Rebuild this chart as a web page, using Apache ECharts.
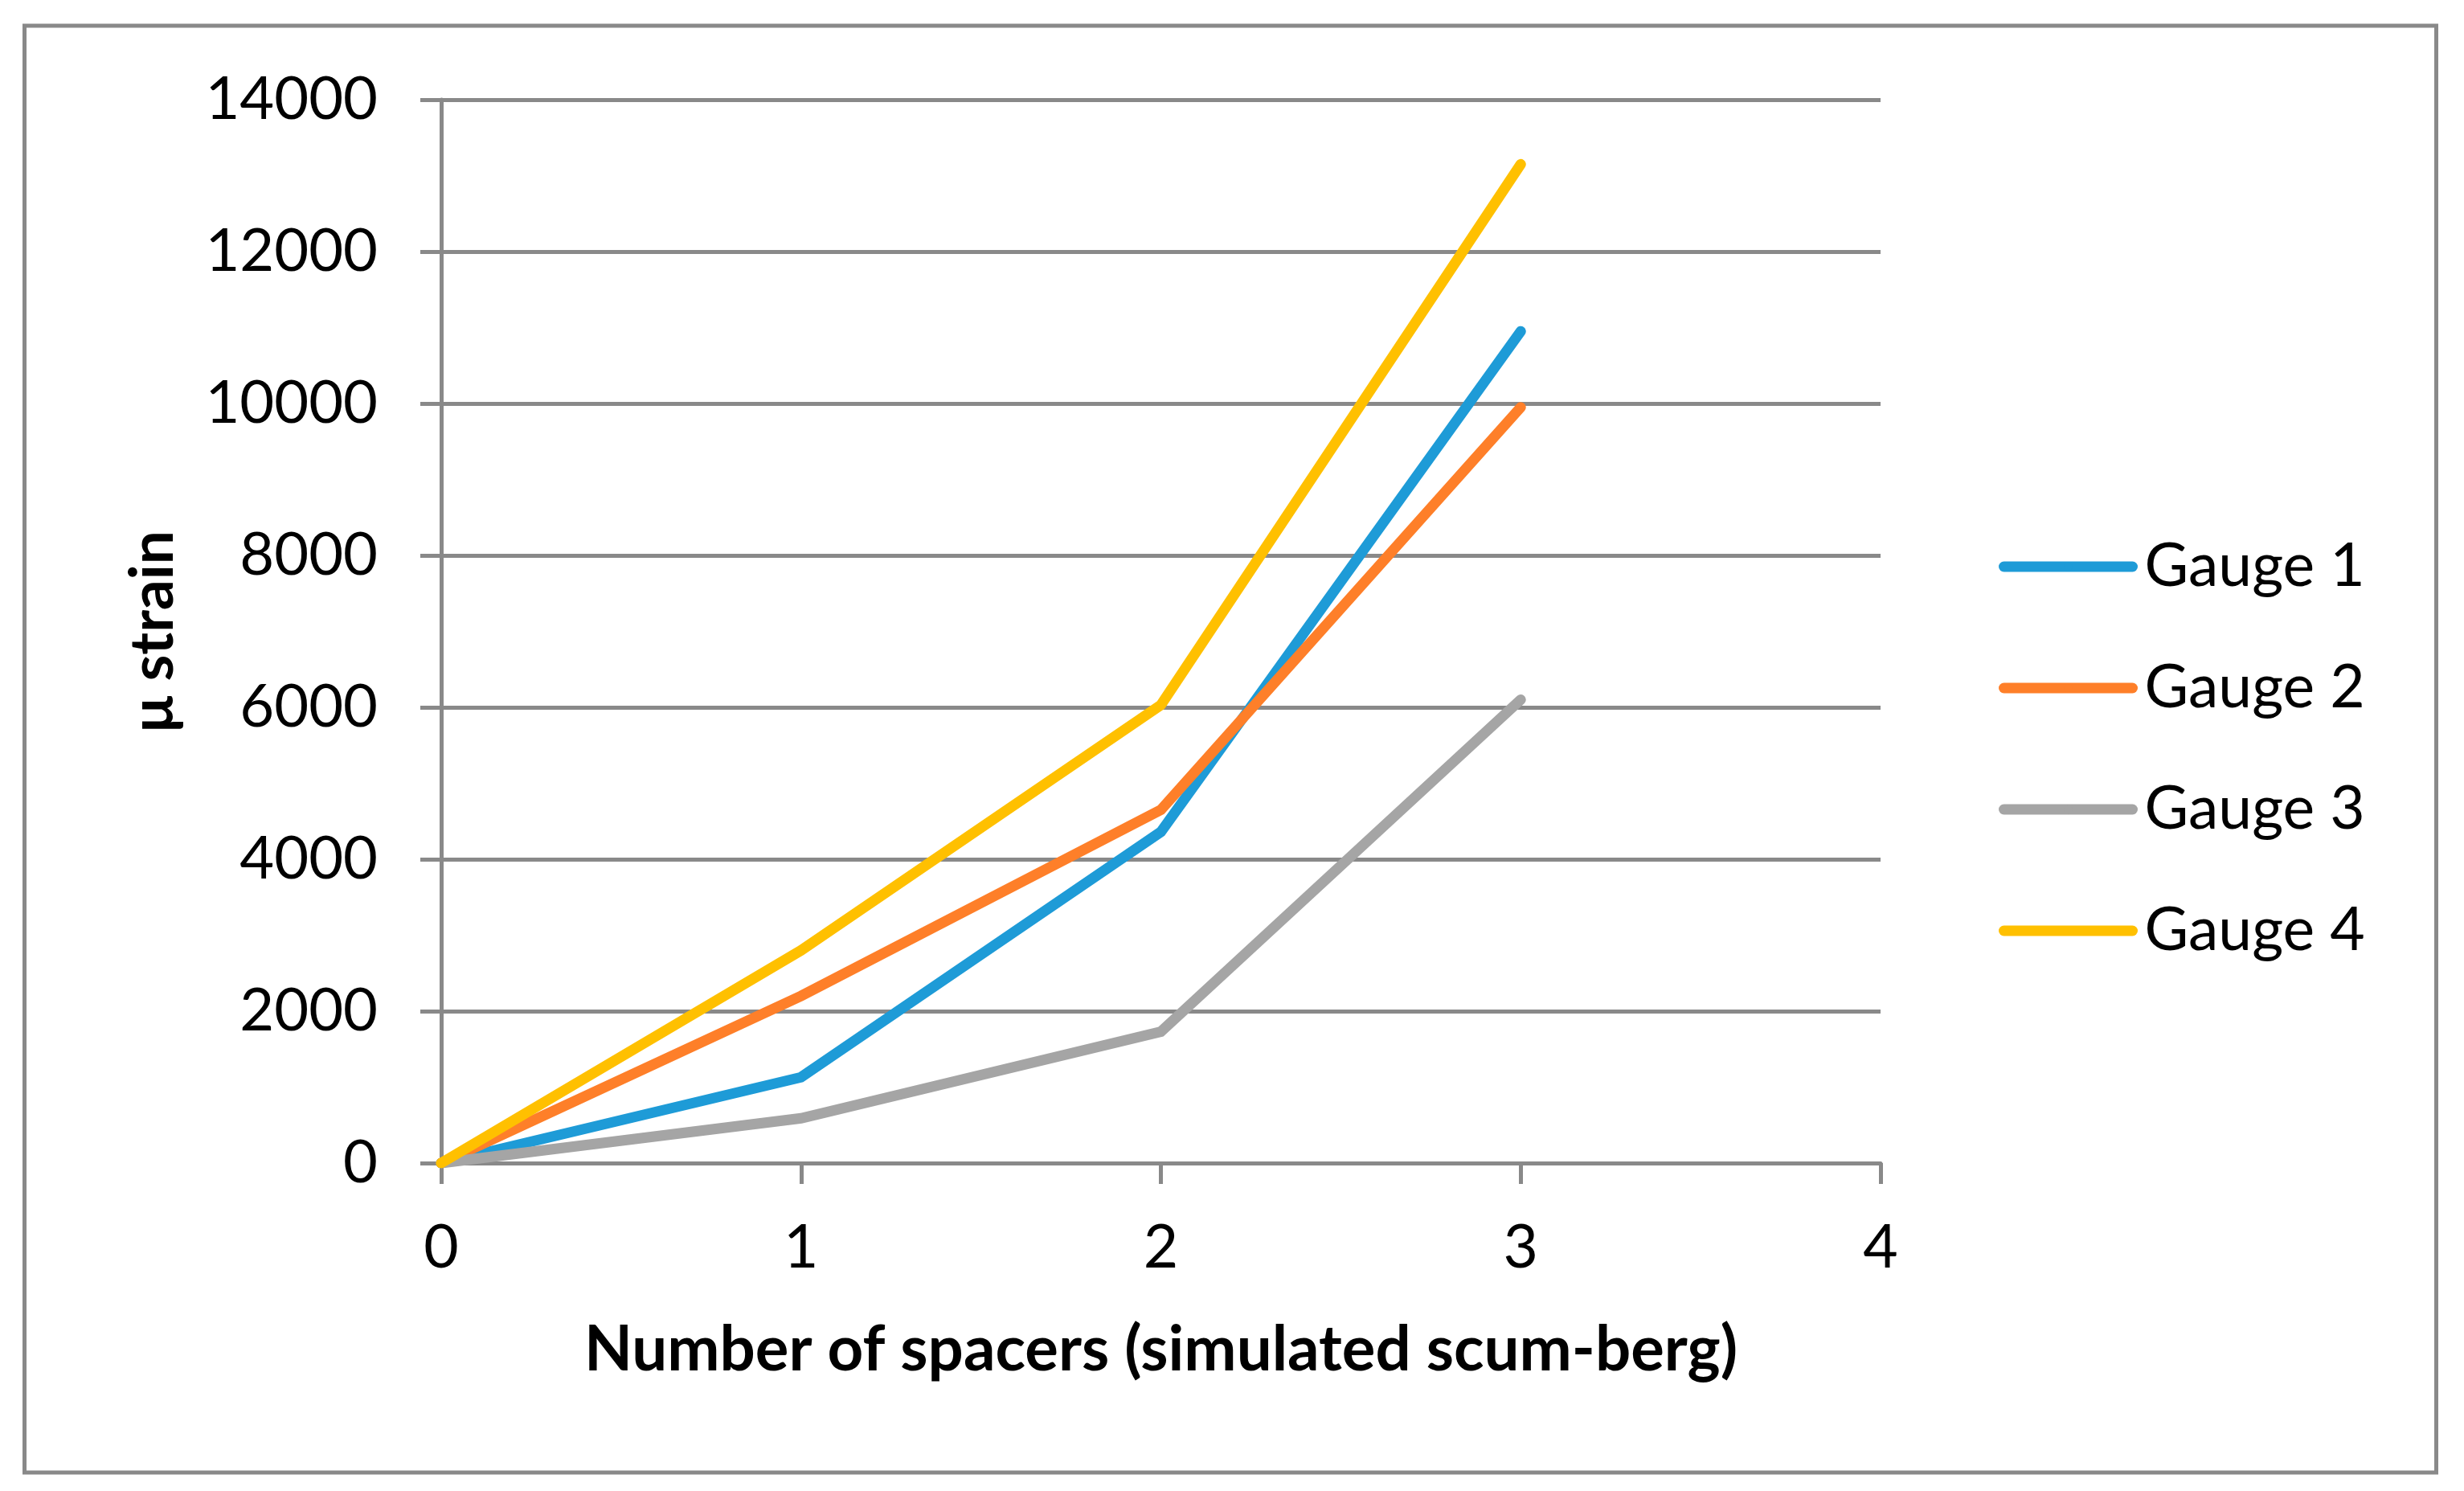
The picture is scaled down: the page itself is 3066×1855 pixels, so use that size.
<!DOCTYPE html>
<html>
<head>
<meta charset="utf-8">
<script src="https://cdn.jsdelivr.net/npm/echarts@6/dist/echarts.min.js"></script>
<style>
html,body{margin:0;padding:0;background:#fff;}
#chart{width:3066px;height:1855px;}
</style>
</head>
<body>
<div id="chart"></div>
<script>
const spacers = [0, 1, 2, 3];
const gauge1 = [0, 1130, 4360, 10950];
const gauge2 = [0, 2200, 4650, 9950];
const gauge3 = [0, 590, 1730, 6100];
const gauge4 = [0, 2800, 6030, 13150];
const seriesNames = ['Gauge 1', 'Gauge 2', 'Gauge 3', 'Gauge 4'];
const seriesColors = ['#1E9BD7', '#FE7F29', '#A5A5A5', '#FFC000'];
const xTitle = 'Number of spacers (simulated scum-berg)';
const yTitle = 'μ strain';

const allValues = [gauge1, gauge2, gauge3, gauge4];
const FONT = 'Lato';
const AXIS_COLOR = '#898989';

const chart = echarts.init(document.getElementById('chart'), null, {renderer: 'canvas'});

const series = allValues.map((vals, i) => ({
  name: seriesNames[i],
  type: 'line',
  data: spacers.map((x, k) => [x, vals[k]]),
  symbol: 'none',
  showSymbol: false,
  color: seriesColors[i],
  lineStyle: {width: 13, color: seriesColors[i], cap: 'round', join: 'miter'},
  emphasis: {disabled: true},
  animation: false
}));

chart.setOption({
  animation: false,
  backgroundColor: '#fff',
  textStyle: {fontFamily: FONT},
  grid: {left: 549, right: 726, top: 124, bottom: 408, containLabel: false},
  xAxis: {
    type: 'value',
    min: 0, max: 4, interval: 1,
    name: xTitle,
    nameLocation: 'middle',
    nameGap: 194,
    nameTextStyle: {fontFamily: FONT, fontWeight: 'bold', fontSize: 78, color: '#000'},
    axisLine: {show: true, onZero: false, lineStyle: {color: AXIS_COLOR, width: 5}},
    axisTick: {show: true, inside: false, length: 26, lineStyle: {color: AXIS_COLOR, width: 5}},
    axisLabel: {fontFamily: FONT, fontSize: 75, color: '#000', margin: 68, formatter: v => String(v)},
    splitLine: {show: false}
  },
  yAxis: {
    type: 'value',
    min: 0, max: 14000, interval: 2000,
    name: yTitle,
    nameLocation: 'middle',
    nameGap: 321,
    nameRotate: 90,
    nameTextStyle: {fontFamily: FONT, fontWeight: 'bold', fontSize: 75, color: '#000'},
    axisLine: {show: true, lineStyle: {color: AXIS_COLOR, width: 5}},
    axisTick: {show: true, inside: false, length: 26, lineStyle: {color: AXIS_COLOR, width: 5}},
    axisLabel: {fontFamily: FONT, fontSize: 74, color: '#000', margin: 79, formatter: v => String(v)},
    splitLine: {show: true, lineStyle: {color: AXIS_COLOR, width: 5}}
  },
  legend: {
    orient: 'vertical',
    left: 2482,
    top: 660,
    itemWidth: 160,
    itemHeight: 13,
    itemGap: 71,
    data: seriesNames,
    selectedMode: false,
    lineStyle: {width: 13, cap: 'round'},
    textStyle: {fontFamily: FONT, fontSize: 75, color: '#000', lineHeight: 80, padding: [0, 0, 0, 10]},
  },
  graphic: [{
    type: 'rect',
    silent: true,
    shape: {x: 30.5, y: 32, width: 3001, height: 1800},
    style: {fill: 'none', stroke: AXIS_COLOR, lineWidth: 5}
  }],
  series: series
});
</script>
</body>
</html>
